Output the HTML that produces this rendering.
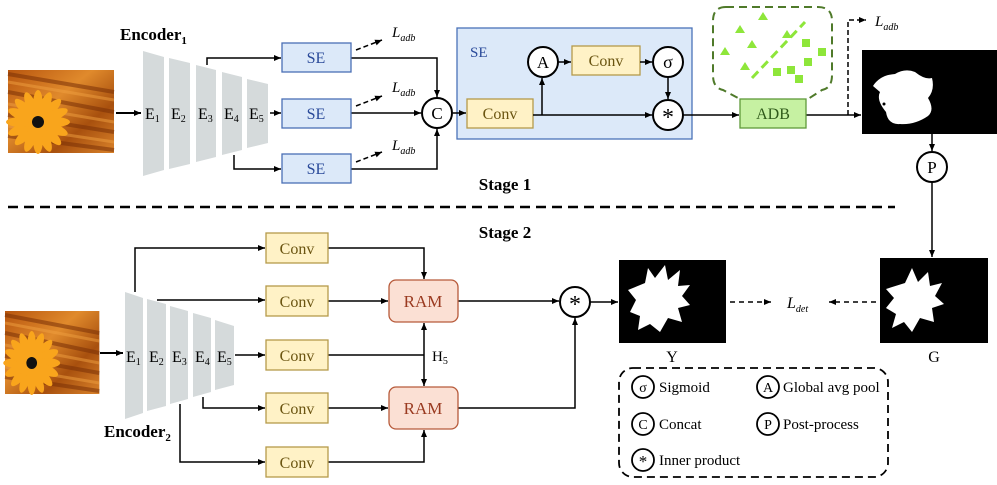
<!DOCTYPE html>
<html><head><meta charset="utf-8"><style>
html,body{margin:0;padding:0;background:#fff;}
svg{display:block;font-family:"Liberation Serif",serif;}
</style></head><body>
<svg width="997" height="485" viewBox="0 0 997 485" xmlns="http://www.w3.org/2000/svg">
<defs>
<marker id="ah" markerWidth="8" markerHeight="8" refX="7" refY="4" orient="auto" markerUnits="userSpaceOnUse"><path d="M0,1 L7,4 L0,7 z" fill="#000"/></marker>
<linearGradient id="og" x1="0" y1="0" x2="1" y2="1"><stop offset="0" stop-color="#b8560f"/><stop offset="0.4" stop-color="#e08a2c"/><stop offset="0.7" stop-color="#a8500e"/><stop offset="1" stop-color="#d9822a"/></linearGradient>
<g id="flower">
<rect x="0" y="0" width="106" height="83" fill="url(#og)"/>
<path d="M0,4 L106,22 M0,22 L106,42 M0,45 L106,62 M0,66 L106,80" stroke="#7a3006" stroke-width="4" opacity="0.55"/>
<path d="M0,12 L106,30 M0,34 L106,52 M0,56 L106,72" stroke="#f0a040" stroke-width="3" opacity="0.5"/>
<g transform="translate(30,52)" fill="#f9a51c">
<ellipse cx="0" cy="-17" rx="5" ry="15"/><ellipse cx="0" cy="-17" rx="5" ry="15" transform="rotate(22.5)"/><ellipse cx="0" cy="-17" rx="5" ry="15" transform="rotate(45)"/><ellipse cx="0" cy="-17" rx="5" ry="15" transform="rotate(67.5)"/>
<ellipse cx="0" cy="-17" rx="5" ry="15" transform="rotate(90)"/><ellipse cx="0" cy="-17" rx="5" ry="15" transform="rotate(112.5)"/><ellipse cx="0" cy="-17" rx="5" ry="15" transform="rotate(135)"/><ellipse cx="0" cy="-17" rx="5" ry="15" transform="rotate(157.5)"/>
<ellipse cx="0" cy="-17" rx="5" ry="15" transform="rotate(180)"/><ellipse cx="0" cy="-17" rx="5" ry="15" transform="rotate(202.5)"/><ellipse cx="0" cy="-17" rx="5" ry="15" transform="rotate(225)"/><ellipse cx="0" cy="-17" rx="5" ry="15" transform="rotate(247.5)"/>
<ellipse cx="0" cy="-17" rx="5" ry="15" transform="rotate(270)"/><ellipse cx="0" cy="-17" rx="5" ry="15" transform="rotate(292.5)"/><ellipse cx="0" cy="-17" rx="5" ry="15" transform="rotate(315)"/><ellipse cx="0" cy="-17" rx="5" ry="15" transform="rotate(337.5)"/>
<circle r="6" fill="#111"/></g>
</g>
</defs>

<!-- Stage 1 -->
<use href="#flower" x="8" y="70"/>
<line x1="116" y1="113" x2="141" y2="113" stroke="#000" stroke-width="2" marker-end="url(#ah)"/>
<text x="120" y="40" font-size="17" font-weight="bold">Encoder<tspan font-size="11" dy="4">1</tspan></text>
<g fill="#d5dadb">
<polygon points="143,51 164,57 164,170 143,176"/>
<polygon points="169,58 190,63 190,164 169,169"/>
<polygon points="196,65 216,70 216,157 196,162"/>
<polygon points="222,72 242,77 242,150 222,155"/>
<polygon points="247,79 268,84 268,143 247,148"/>
</g>
<g font-size="16">
<text x="145" y="119">E<tspan font-size="10" dy="3">1</tspan></text>
<text x="171" y="119">E<tspan font-size="10" dy="3">2</tspan></text>
<text x="198" y="119">E<tspan font-size="10" dy="3">3</tspan></text>
<text x="224" y="119">E<tspan font-size="10" dy="3">4</tspan></text>
<text x="249" y="119">E<tspan font-size="10" dy="3">5</tspan></text>
</g>
<g stroke="#000" stroke-width="1.5" fill="none">
<polyline points="207,65 207,58 281,58" marker-end="url(#ah)"/>
<line x1="270" y1="113" x2="281" y2="113" marker-end="url(#ah)"/>
<polyline points="234,155 234,169 281,169" marker-end="url(#ah)"/>
<polyline points="351,58 437,58 437,97" marker-end="url(#ah)"/>
<line x1="351" y1="113" x2="421" y2="113" marker-end="url(#ah)"/>
<polyline points="351,169 437,169 437,129" marker-end="url(#ah)"/>
</g>
<g fill="#dce9f9" stroke="#4a6fb5" stroke-width="1.3">
<rect x="282" y="43" width="69" height="29"/><rect x="282" y="99" width="69" height="29"/><rect x="282" y="154" width="69" height="29"/>
</g>
<g font-size="16" fill="#2a4a9a" text-anchor="middle"><text x="316" y="63">SE</text><text x="316" y="119">SE</text><text x="316" y="174">SE</text></g>
<g stroke="#000" stroke-width="1.5" stroke-dasharray="5,3" fill="none">
<line x1="356" y1="50" x2="382" y2="40" marker-end="url(#ah)"/>
<line x1="356" y1="106" x2="382" y2="96" marker-end="url(#ah)"/>
<line x1="356" y1="162" x2="382" y2="152" marker-end="url(#ah)"/>
</g>
<g font-size="15" font-style="italic"><text x="392" y="37">L<tspan font-size="10" dy="4">adb</tspan></text><text x="392" y="92">L<tspan font-size="10" dy="4">adb</tspan></text><text x="392" y="150">L<tspan font-size="10" dy="4">adb</tspan></text></g>
<circle cx="437" cy="113" r="15" fill="#fff" stroke="#000" stroke-width="2"/>
<text x="437" y="119" font-size="17" text-anchor="middle">C</text>

<rect x="457" y="28" width="235" height="111" fill="#dce9f9" stroke="#4a72b8" stroke-width="1.3"/>
<text x="470" y="57" font-size="15" fill="#2a4a9a">SE</text>
<line x1="453" y1="113" x2="466" y2="113" stroke="#000" stroke-width="1.5" marker-end="url(#ah)"/>
<g fill="#fff2c6" stroke="#b59a4a" stroke-width="1.3">
<rect x="467" y="99" width="66" height="29"/><rect x="572" y="46" width="68" height="29"/>
</g>
<g font-size="16" fill="#6a5410" text-anchor="middle"><text x="500" y="119">Conv</text><text x="606" y="66">Conv</text></g>
<g stroke="#000" stroke-width="1.5" fill="none">
<line x1="533" y1="115" x2="652" y2="115" marker-end="url(#ah)"/>
<line x1="542" y1="115" x2="542" y2="78" marker-end="url(#ah)"/>
<line x1="558" y1="62" x2="571" y2="62" marker-end="url(#ah)"/>
<line x1="640" y1="62" x2="652" y2="62" marker-end="url(#ah)"/>
<line x1="668" y1="77" x2="668" y2="99" marker-end="url(#ah)"/>
<line x1="683" y1="115" x2="739" y2="115" marker-end="url(#ah)"/>
<line x1="806" y1="115" x2="861" y2="115" marker-end="url(#ah)"/>
</g>
<g fill="#fff" stroke="#000" stroke-width="2"><circle cx="543" cy="62" r="15"/><circle cx="668" cy="62" r="15"/><circle cx="668" cy="115" r="15"/></g>
<text x="543" y="68" font-size="17" text-anchor="middle">A</text>
<text x="668" y="68" font-size="18" text-anchor="middle">σ</text>
<text x="668" y="125" font-size="24" text-anchor="middle">*</text>

<path d="M726,7 H818 Q832,7 832,21 V75 Q832,88 822,90 L808,99 M726,7 Q713,7 713,21 V75 Q713,88 723,90 L740,99" fill="none" stroke="#4f7a2a" stroke-width="2" stroke-dasharray="8,5"/>
<g fill="#8ee63a">
<polygon points="763,12 768,20 758,20"/><polygon points="740,25 745,33 735,33"/><polygon points="787,30 792,38 782,38"/>
<polygon points="752,40 757,48 747,48"/><polygon points="725,47 730,55 720,55"/><polygon points="745,62 750,70 740,70"/>
<rect x="802" y="39" width="8" height="8"/><rect x="818" y="48" width="8" height="8"/><rect x="804" y="58" width="8" height="8"/>
<rect x="787" y="66" width="8" height="8"/><rect x="773" y="68" width="8" height="8"/><rect x="795" y="75" width="8" height="8"/>
</g>
<line x1="752" y1="78" x2="805" y2="22" stroke="#8ee63a" stroke-width="3" stroke-dasharray="9,5"/>
<rect x="740" y="99" width="66" height="29" fill="#c6f1a2" stroke="#5f9a3a" stroke-width="1.3"/>
<text x="773" y="119" font-size="16" fill="#2f5a1a" text-anchor="middle">ADB</text>
<polyline points="848,115 848,20 866,20" fill="none" stroke="#000" stroke-width="1.5" stroke-dasharray="5,3" marker-end="url(#ah)"/>
<text x="875" y="26" font-size="15" font-style="italic">L<tspan font-size="10" dy="4">adb</tspan></text>

<rect x="862" y="50" width="135" height="84" fill="#000"/>
<path d="M873,86 Q880,75 895,74 Q905,68 915,72 Q925,80 932,78 Q935,90 928,98 Q935,110 928,116 Q915,125 900,124 Q888,125 886,112 Q876,100 880,92 Z" fill="#fff"/>
<circle cx="884" cy="104" r="1.5" fill="#000"/>
<line x1="932" y1="134" x2="932" y2="151" stroke="#000" stroke-width="1.5" marker-end="url(#ah)"/>
<circle cx="932" cy="167" r="15" fill="#fff" stroke="#000" stroke-width="2"/>
<text x="932" y="173" font-size="17" text-anchor="middle">P</text>
<line x1="932" y1="182" x2="932" y2="257" stroke="#000" stroke-width="1.5" marker-end="url(#ah)"/>

<text x="505" y="190" font-size="17" font-weight="bold" text-anchor="middle">Stage 1</text>
<line x1="8" y1="207" x2="895" y2="207" stroke="#000" stroke-width="2.5" stroke-dasharray="10,6"/>
<text x="505" y="238" font-size="17" font-weight="bold" text-anchor="middle">Stage 2</text>

<!-- Stage 2 -->
<use href="#flower" transform="translate(5,311) scale(0.89,1)"/>
<line x1="100" y1="353" x2="123" y2="353" stroke="#000" stroke-width="2" marker-end="url(#ah)"/>
<g fill="#d5dadb">
<polygon points="125,292 143,298 143,413 125,419"/>
<polygon points="147,299 166,304 166,406 147,411"/>
<polygon points="170,306 188,311 188,399 170,404"/>
<polygon points="193,313 211,318 211,392 193,397"/>
<polygon points="215,320 234,326 234,385 215,390"/>
</g>
<g font-size="16">
<text x="126" y="362">E<tspan font-size="10" dy="3">1</tspan></text>
<text x="149" y="362">E<tspan font-size="10" dy="3">2</tspan></text>
<text x="172" y="362">E<tspan font-size="10" dy="3">3</tspan></text>
<text x="195" y="362">E<tspan font-size="10" dy="3">4</tspan></text>
<text x="217" y="362">E<tspan font-size="10" dy="3">5</tspan></text>
</g>
<text x="104" y="437" font-size="17" font-weight="bold">Encoder<tspan font-size="11" dy="4">2</tspan></text>
<g stroke="#000" stroke-width="1.5" fill="none">
<polyline points="135,292 135,248 265,248" marker-end="url(#ah)"/>
<line x1="157" y1="300" x2="265" y2="300" marker-end="url(#ah)"/>
<line x1="235" y1="355" x2="265" y2="355" marker-end="url(#ah)"/>
<polyline points="203,397 203,408 265,408" marker-end="url(#ah)"/>
<polyline points="180,404 180,462 265,462" marker-end="url(#ah)"/>
<polyline points="328,248 424,248 424,279" marker-end="url(#ah)"/>
<line x1="328" y1="301" x2="388" y2="301" marker-end="url(#ah)"/>
<line x1="328" y1="355" x2="424" y2="355"/>
<line x1="424" y1="355" x2="424" y2="323" marker-end="url(#ah)"/>
<line x1="424" y1="355" x2="424" y2="386" marker-end="url(#ah)"/>
<line x1="328" y1="408" x2="388" y2="408" marker-end="url(#ah)"/>
<polyline points="328,462 424,462 424,430" marker-end="url(#ah)"/>
<line x1="458" y1="301" x2="559" y2="301" marker-end="url(#ah)"/>
<polyline points="458,408 575,408 575,318" marker-end="url(#ah)"/>
<line x1="590" y1="302" x2="618" y2="302" marker-end="url(#ah)"/>
</g>
<g fill="#fff2c6" stroke="#b59a4a" stroke-width="1.3">
<rect x="266" y="233" width="62" height="30"/><rect x="266" y="286" width="62" height="30"/><rect x="266" y="340" width="62" height="30"/><rect x="266" y="393" width="62" height="30"/><rect x="266" y="447" width="62" height="30"/>
</g>
<g font-size="16" fill="#6a5410" text-anchor="middle">
<text x="297" y="254">Conv</text><text x="297" y="307">Conv</text><text x="297" y="361">Conv</text><text x="297" y="414">Conv</text><text x="297" y="468">Conv</text>
</g>
<g fill="#fbe0d4" stroke="#b75a3a" stroke-width="1.3">
<rect x="389" y="280" width="69" height="42" rx="7"/><rect x="389" y="387" width="69" height="42" rx="7"/>
</g>
<g font-size="17" fill="#9a3a20" text-anchor="middle"><text x="423" y="307">RAM</text><text x="423" y="414">RAM</text></g>
<text x="432" y="361" font-size="15">H<tspan font-size="10" dy="3">5</tspan></text>
<circle cx="575" cy="302" r="15" fill="#fff" stroke="#000" stroke-width="2"/>
<text x="575" y="312" font-size="24" text-anchor="middle">*</text>

<rect x="619" y="260" width="107" height="83" fill="#000"/>
<path d="M628,290 L645,283 L648,268 L655,278 L665,265 L668,280 L680,270 L678,286 L690,285 L682,296 L690,305 L678,308 L682,322 L668,318 L660,332 L650,324 L638,330 L640,316 L630,312 L636,300 Z" fill="#fff"/>
<text x="672" y="362" font-size="16" text-anchor="middle">Y</text>
<rect x="880" y="258" width="108" height="85" fill="#000"/>
<path d="M886,289 L905,283 L912,268 L918,282 L928,272 L930,286 L942,283 L935,296 L944,304 L932,308 L934,322 L920,318 L912,332 L904,322 L892,328 L896,314 L886,308 L894,298 Z" fill="#fff"/>
<text x="934" y="362" font-size="16" text-anchor="middle">G</text>
<g stroke="#000" stroke-width="1.5" stroke-dasharray="5,4" fill="none">
<line x1="730" y1="302" x2="771" y2="302" marker-end="url(#ah)"/>
<line x1="876" y1="302" x2="829" y2="302" marker-end="url(#ah)"/>
</g>
<text x="787" y="308" font-size="16" font-style="italic">L<tspan font-size="10" dy="4">det</tspan></text>

<rect x="619" y="368" width="269" height="109" rx="14" fill="none" stroke="#000" stroke-width="1.8" stroke-dasharray="8,5"/>
<g fill="#fff" stroke="#000" stroke-width="1.8">
<circle cx="643" cy="387" r="11"/><circle cx="768" cy="387" r="11"/><circle cx="643" cy="424" r="11"/><circle cx="768" cy="424" r="11"/><circle cx="643" cy="460" r="11"/>
</g>
<g font-size="14" text-anchor="middle">
<text x="643" y="392">σ</text><text x="768" y="392">A</text><text x="643" y="429">C</text><text x="768" y="429">P</text><text x="643" y="467" font-size="17">*</text>
</g>
<g font-size="15">
<text x="659" y="392">Sigmoid</text><text x="783" y="392">Global avg pool</text>
<text x="659" y="429">Concat</text><text x="783" y="429">Post-process</text>
<text x="659" y="465">Inner product</text>
</g>
</svg>
</body></html>
